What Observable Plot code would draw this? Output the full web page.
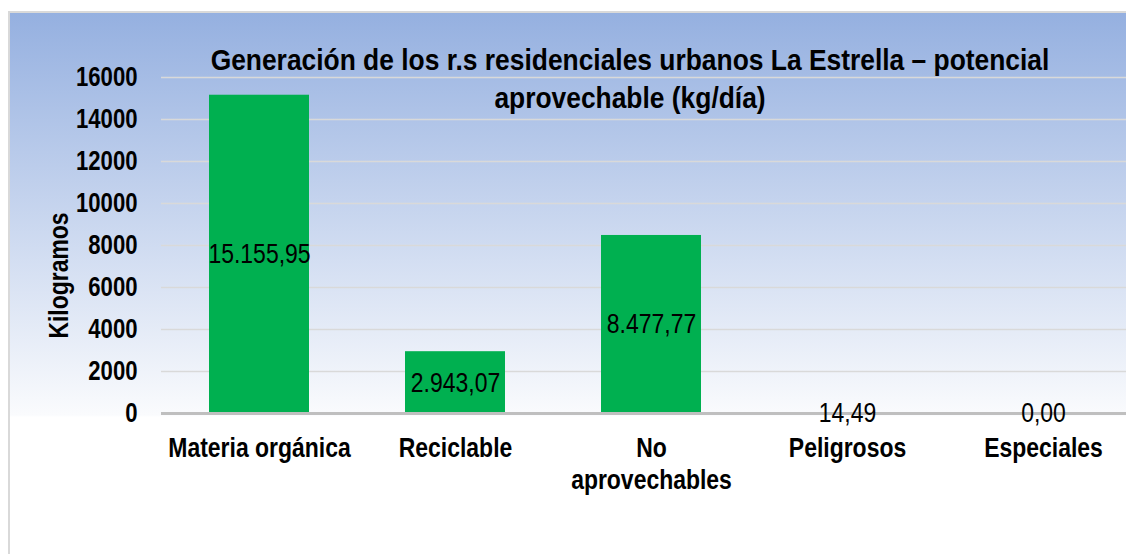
<!DOCTYPE html>
<html>
<head>
<meta charset="utf-8">
<script src="https://cdn.jsdelivr.net/npm/d3@7"></script>
<script src="https://cdn.jsdelivr.net/npm/@observablehq/plot@0.6"></script>
<style>
  html, body { margin: 0; padding: 0; background: #ffffff; overflow: hidden; }
  #wrap { position: relative; width: 1126px; height: 554px; overflow: hidden; }
  #frame { position: absolute; left: 8px; top: 11px; width: 1140px; height: 560px;
    border: 2px solid #d9d9d9; box-sizing: border-box;
    background: linear-gradient(to bottom, #95b0e0 0px, #fafbfd 402px, #ffffff 404px, #ffffff 100%); }
  #chart { position: absolute; left: 0; top: 0; }
  #chart svg { background: transparent !important; }
</style>
</head>
<body>
<div id="wrap"><div id="frame"></div><div id="chart"></div></div>
<script>
const categories = ["Materia orgánica", "Reciclable", "No\naprovechables", "Peligrosos", "Especiales"];
const values = [15155.95, 2943.07, 8477.77, 14.49, 0.00];
const yTicks = [0, 2000, 4000, 6000, 8000, 10000, 12000, 14000, 16000];
const titleText = "Generación de los r.s residenciales urbanos La Estrella – potencial\naprovechable (kg/día)";
const yLabel = "Kilogramos";

const esFormat = d3.formatLocale({decimal: ",", thousands: ".", grouping: [3], currency: ["", ""]}).format(",.2f");
const data = categories.map((c, i) => ({cat: c, value: values[i], label: esFormat(values[i])}));

const FONT = "'Liberation Sans', Arial, sans-serif";
const NARROW = 0.82;       // emulate Arial Narrow
const TITLE_NARROW = 0.91; // title is a little wider
const TITLE_SIZE = 29;

const chart = Plot.plot({
  width: 1126,
  height: 554,
  marginTop: 77,
  marginBottom: 141,
  marginLeft: 161,
  marginRight: 0,
  style: {fontFamily: FONT, background: "transparent", color: "#000"},
  x: {domain: categories, range: [161, 1141], paddingInner: 0.49, paddingOuter: 0.245, label: null},
  y: {domain: [0, 16000], label: null},
  marks: [
    Plot.gridY(yTicks, {stroke: "#d9d9d9", strokeOpacity: 1, strokeWidth: 1.5}),
    Plot.barY(data, {x: "cat", y: "value", fill: "#00b050"}),
    Plot.ruleY([0], {stroke: "#bfbfbf", strokeWidth: 3}),
    Plot.text(data, Plot.stackY({x: "cat", y: "value", text: "label", fontSize: 28, fill: "#000", lineAnchor: "middle"})),
    Plot.axisY(yTicks, {tickSize: 0, tickPadding: 24, fontSize: 27, fontWeight: "bold", label: null, tickFormat: d => String(d), fill: "#000"}),
    Plot.axisX({tickSize: 0, tickPadding: 21, fontSize: 28, fontWeight: "bold", label: null, lineHeight: 1.14, fill: "#000"}),
    Plot.text([yLabel], {frameAnchor: "left", textAnchor: "middle", dx: -102, dy: 30, rotate: -90, fontSize: 28, fontWeight: "bold", fill: "#000"}),
    Plot.text([titleText], {frameAnchor: "top", textAnchor: "middle", dx: -14, dy: -34, lineAnchor: "top", lineHeight: 1.31, fontSize: TITLE_SIZE, fontWeight: "bold", fill: "#000"})
  ]
});

// horizontally condense all text around its own anchor (Arial Narrow look);
// Plot positions each text with a translate() transform, so scaling after it keeps the anchor.
chart.querySelectorAll("text").forEach(t => {
  const g = t.closest("[font-size]");
  const isTitle = g && +g.getAttribute("font-size") === TITLE_SIZE;
  const s = isTitle ? TITLE_NARROW : NARROW;
  const tr = t.getAttribute("transform") || "";
  t.setAttribute("transform", (tr + ` scale(${s},1)`).trim());
});
document.getElementById("chart").appendChild(chart);
</script>
</body>
</html>
